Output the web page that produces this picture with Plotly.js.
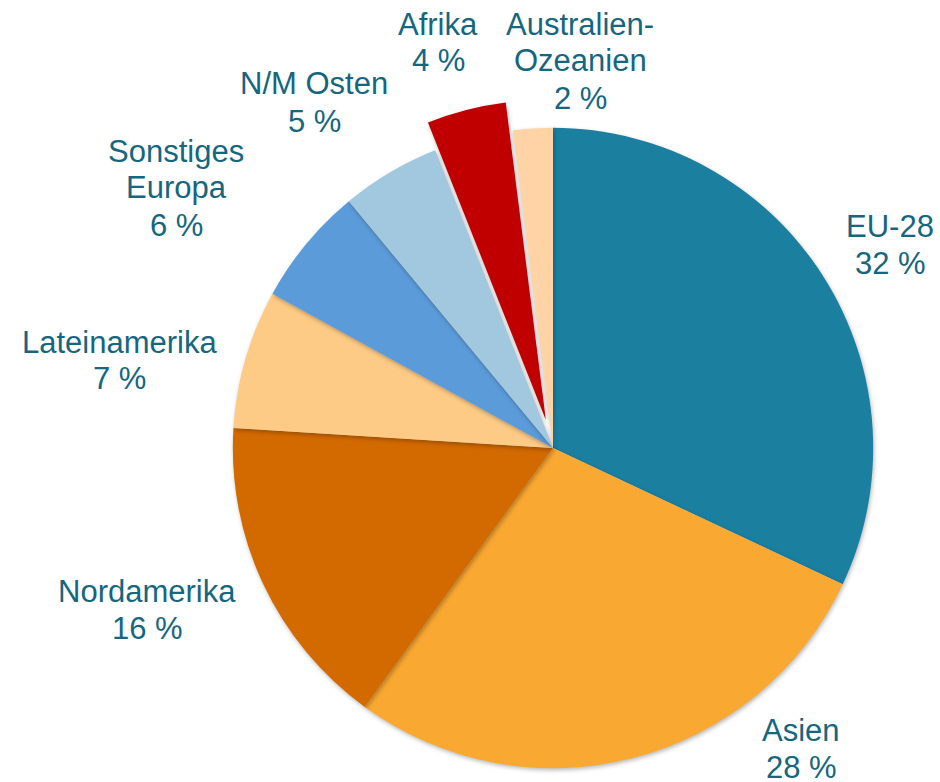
<!DOCTYPE html>
<html>
<head>
<meta charset="utf-8">
<script src="https://cdn.plot.ly/plotly-3.0.1.min.js"></script>
<style>
  html, body { margin: 0; padding: 0; overflow: hidden; background: #ffffff; }
  #chart { width: 940px; height: 840px; }
  .pielayer .slice path.surface { filter: drop-shadow(1px 2px 2px rgba(0,0,0,0.28)); }
</style>
</head>
<body>
<div id="chart"></div>
<script>
// Data
var categories = ["EU-28", "Asien", "Nordamerika", "Lateinamerika", "Sonstiges Europa", "N/M Osten", "Afrika", "Australien-Ozeanien"];
var categoryLines = [["EU-28"], ["Asien"], ["Nordamerika"], ["Lateinamerika"], ["Sonstiges", "Europa"], ["N/M Osten"], ["Afrika"], ["Australien-", "Ozeanien"]];
var shares = [32, 28, 16, 7, 6, 5, 4, 2];
var pulled = [0, 0, 0, 0, 0, 0, 0.09, 0];

// Styling
var sliceColors = ["#1B7FA0", "#F9A832", "#D36A00", "#FDCB86", "#5B9BD9", "#A2C8E0", "#C00000", "#FFD3A5"];
var textColor = "#15667F";
var fontFamily = "Arial, Liberation Sans, sans-serif";
var fontSize = 31;
var lineGap = 37;

// Label anchor positions: center x and first-line middle y (pixels in the 940 x 840 plot div)
var W = 940, H = 840;
var labelAnchors = [
  [890, 226], [801, 730], [147, 591], [120, 342],
  [176, 151], [314, 84], [438, 24], [580, 24]
];

var annotations = [];
categories.forEach(function (c, i) {
  var lines = categoryLines[i].concat([shares[i] + " %"]);
  lines.forEach(function (t, j) {
    annotations.push({
      xref: "paper", yref: "paper",
      x: labelAnchors[i][0] / W,
      y: (H - (labelAnchors[i][1] + j * lineGap)) / H,
      xanchor: "center", yanchor: "middle",
      text: t,
      showarrow: false,
      align: "center",
      font: { family: fontFamily, size: fontSize, color: textColor }
    });
  });
});

var trace = {
  type: "pie",
  labels: categories,
  values: shares,
  pull: pulled,
  sort: false,
  direction: "clockwise",
  rotation: 0,
  textinfo: "none",
  hoverinfo: "label+percent",
  marker: { colors: sliceColors, line: { width: 0 } },
  domain: { x: [204 / W, 902 / W], y: [43 / H, 741 / H] },
  showlegend: false
};

var layout = {
  width: W, height: H,
  margin: { l: 0, r: 0, t: 0, b: 0 },
  paper_bgcolor: "#ffffff",
  showlegend: false,
  annotations: annotations,
  font: { family: fontFamily }
};

Plotly.newPlot("chart", [trace], layout, { displayModeBar: false, staticPlot: true });
</script>
</body>
</html>
